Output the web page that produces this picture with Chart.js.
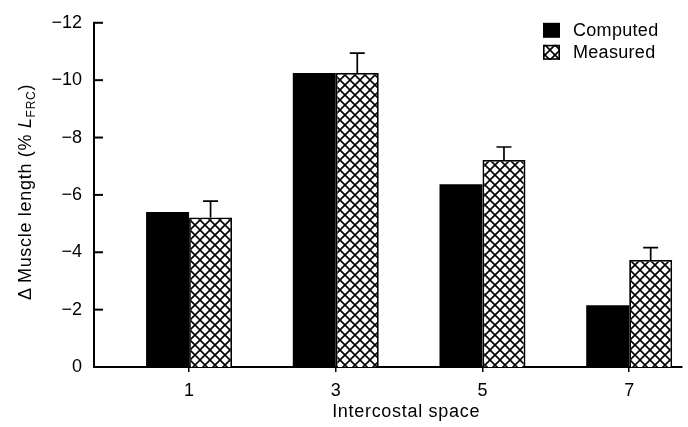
<!DOCTYPE html>
<html>
<head>
<meta charset="utf-8">
<script src="https://cdn.jsdelivr.net/npm/chart.js@4.4.0/dist/chart.umd.min.js"></script>
<style>
html, body { margin: 0; padding: 0; background: #fff; }
#wrap { width: 688px; height: 427px; position: relative; }
</style>
</head>
<body>
<div id="wrap"><canvas id="c"></canvas></div>
<script>
// ---- data ----
const categories = [1, 3, 5, 7];
const computed = [-5.40, -10.25, -6.37, -2.15];
const measured = [-5.21, -10.25, -7.22, -3.73];
const measuredErr = [0.57, 0.69, 0.45, 0.43];
const yTickValues = [0, -2, -4, -6, -8, -10, -12];
const seriesNames = ['Computed', 'Measured'];
const xTitle = 'Intercostal space';
const yTitleParts = ['\u0394\u2009Muscle length (% ', 'L', 'FRC', ')'];

const FONT = '"Liberation Sans", Arial, Helvetica, sans-serif';
Chart.defaults.font.family = FONT;
Chart.defaults.color = '#000';

function makeHatch() {
  const s = 10;
  const c = document.createElement('canvas');
  c.width = s; c.height = s;
  const g = c.getContext('2d');
  g.fillStyle = '#fff';
  g.fillRect(0, 0, s, s);
  g.strokeStyle = '#000';
  g.lineWidth = 1.6;
  g.beginPath();
  g.moveTo(-2, -2); g.lineTo(s + 2, s + 2);
  g.moveTo(s + 2, -2); g.lineTo(-2, s + 2);
  g.stroke();
  return g.createPattern(c, 'repeat');
}
const hatch = makeHatch();

const decor = {
  id: 'decor',
  afterDatasetsDraw(chart) {
    const ctx = chart.ctx;
    const ys = chart.scales.y;
    const meta = chart.getDatasetMeta(1);
    ctx.save();
    ctx.strokeStyle = '#000';
    ctx.lineWidth = 1.7;
    meta.data.forEach((bar, i) => {
      const top = ys.getPixelForValue(measured[i] - measuredErr[i]);
      ctx.beginPath();
      ctx.moveTo(bar.x, bar.y);
      ctx.lineTo(bar.x, top);
      ctx.moveTo(bar.x - 7.5, top);
      ctx.lineTo(bar.x + 7.5, top);
      ctx.stroke();
    });
    ctx.restore();
  },
  afterDraw(chart) {
    const ctx = chart.ctx;
    const ca = chart.chartArea;
    const ys = chart.scales.y;
    const xs = chart.scales.x;
    ctx.save();
    // inward y ticks
    ctx.strokeStyle = '#000';
    ctx.lineWidth = 2;
    ys.ticks.forEach(t => {
      if (t.value === 0) return;
      const y = ys.getPixelForValue(t.value);
      ctx.beginPath();
      ctx.moveTo(ca.left - 1, y);
      ctx.lineTo(ca.left + 9, y);
      ctx.stroke();
    });
    // legend
    const lx = ca.right - 139;
    const rows = [ca.top, ca.top + 22];
    chart.data.datasets.forEach((ds, i) => {
      const y0 = rows[i];
      ctx.fillStyle = ds.backgroundColor;
      ctx.fillRect(lx, y0, 17, 15);
      if (ds.borderWidth) {
        ctx.strokeStyle = '#000';
        ctx.lineWidth = 1.6;
        ctx.strokeRect(lx + 0.8, y0 + 0.8, 17 - 1.6, 15 - 1.6);
      }
      ctx.fillStyle = '#000';
      ctx.font = '18px ' + FONT;
      ctx.textBaseline = 'middle';
      ctx.textAlign = 'left';
      ctx.letterSpacing = '0.3px';
      ctx.fillText(ds.label, lx + 30, y0 + 8);
    });
    // x title
    ctx.letterSpacing = '0.7px';
    ctx.font = '18px ' + FONT;
    ctx.textAlign = 'center';
    ctx.textBaseline = 'alphabetic';
    ctx.fillText(xTitle, (xs.getPixelForValue(3) + xs.getPixelForValue(5)) / 2 - 3, 417);
    // y title (rotated)
    const fN = '18px ' + FONT, fI = 'italic 18px ' + FONT, fS = '12px ' + FONT;
    const fonts = [fN, fI, fS, fN];
    const offs = [0, 0, 4, 0];
    let widths = yTitleParts.map((p, i) => { ctx.font = fonts[i]; return ctx.measureText(p).width; });
    const total = widths.reduce((a, b) => a + b, 0);
    ctx.translate(31, 192);
    ctx.rotate(-Math.PI / 2);
    ctx.textAlign = 'left';
    let x = -total / 2;
    yTitleParts.forEach((p, i) => {
      ctx.font = fonts[i];
      ctx.fillText(p, x, offs[i]);
      x += widths[i];
    });
    ctx.restore();
  }
};

new Chart(document.getElementById('c'), {
  type: 'bar',
  data: {
    datasets: [
      {
        label: seriesNames[0],
        data: categories.map((c, i) => ({ x: c, y: computed[i] })),
        backgroundColor: '#000',
        borderWidth: 0,
        categoryPercentage: 0.586,
        barPercentage: 1
      },
      {
        label: seriesNames[1],
        data: categories.map((c, i) => ({ x: c, y: measured[i] })),
        backgroundColor: hatch,
        borderColor: '#000',
        borderWidth: 1.8,
        categoryPercentage: 0.586,
        barPercentage: 1
      }
    ]
  },
  options: {
    responsive: true,
    maintainAspectRatio: false,
    animation: false,
    layout: { padding: { top: 14, right: 6, left: 0, bottom: 0 } },
    plugins: { legend: { display: false }, tooltip: { enabled: false } },
    scales: {
      x: {
        type: 'linear',
        min: -0.296,
        max: 7.72,
        offset: false,
        afterBuildTicks: s => { s.ticks = categories.map(v => ({ value: v })); },
        afterFit: s => { s.height = 60; },
        grid: { display: true, drawOnChartArea: false, drawTicks: true, tickLength: 5, offset: false, color: '#000', lineWidth: 1.5 },
        border: { display: true, color: '#000', width: 2 },
        ticks: { color: '#000', font: { size: 18 }, padding: 8, maxRotation: 0, autoSkip: false, callback: v => String(v) }
      },
      y: {
        type: 'linear',
        reverse: true,
        min: -12,
        max: 0,
        afterBuildTicks: s => { s.ticks = yTickValues.map(v => ({ value: v })); },
        afterFit: s => { s.width = 94; },
        grid: { display: false, drawTicks: false },
        border: { display: true, color: '#000', width: 2 },
        ticks: { color: '#000', font: { size: 18 }, padding: 12, callback: v => (v === 0 ? '0' : '\u2212' + Math.abs(v)) }
      }
    }
  },
  plugins: [decor]
});
</script>
</body>
</html>
